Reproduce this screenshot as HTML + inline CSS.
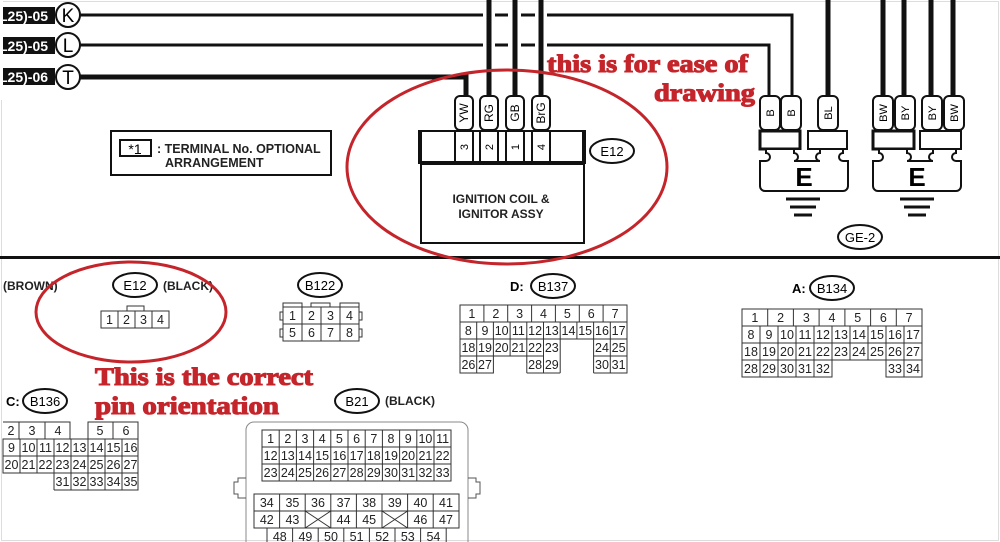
<!DOCTYPE html>
<html><head><meta charset="utf-8"><style>
html,body{margin:0;padding:0;background:#fff;}
svg{display:block;}
text{font-family:"Liberation Sans",sans-serif;}
.n{font-size:12.5px;text-anchor:middle;fill:#222;}
.red{font-family:"Liberation Serif",serif;font-weight:bold;fill:#c4252b;stroke:#c4252b;stroke-width:1.1px;}
</style></head><body>
<svg width="1000" height="542" viewBox="0 0 1000 542" xmlns="http://www.w3.org/2000/svg">
<rect x="1.5" y="1.5" width="997" height="539" fill="#fff" stroke="#ddd"/>
<!-- top wire labels -->
<rect x="3" y="7" width="52" height="17" fill="#111"/><text x="-1" y="21" fill="#fff" font-weight="bold" font-size="14">L25)-05</text>
<rect x="3" y="37" width="52" height="17" fill="#111"/><text x="-1" y="51" fill="#fff" font-weight="bold" font-size="14">L25)-05</text>
<rect x="3" y="68" width="52" height="17" fill="#111"/><text x="-1" y="82" fill="#fff" font-weight="bold" font-size="14">L25)-06</text>
<rect x="0" y="0" width="3" height="100" fill="#fff"/>
<g fill="#fff" stroke="#111" stroke-width="2">
<circle cx="68" cy="15" r="12"/><circle cx="68" cy="45" r="12"/><circle cx="68" cy="77" r="12"/>
</g>
<text x="68" y="22" font-size="19" text-anchor="middle">K</text>
<text x="68" y="52" font-size="19" text-anchor="middle">L</text>
<text x="68" y="84" font-size="19" text-anchor="middle">T</text>
<!-- horizontal wires -->
<g stroke="#111" fill="none">
<path d="M80 15H483M495 15H508M521 15H535M547 15H792V97" stroke-width="3"/>
<path d="M80 45H483M495 45H508M521 45H535M547 45H769V97" stroke-width="3"/>
<path d="M80 77H466V97" stroke-width="5"/>
<path d="M489 0V97M515 0V97M541 0V97" stroke-width="5"/>
<path d="M828 0V97M883 0V97M904 0V97M931 0V97M953 0V97" stroke-width="5"/>
</g>
<!-- E12 terminals -->
<g fill="#fff" stroke="#111" stroke-width="2">
<rect x="455" y="96" width="18" height="34" rx="5"/>
<rect x="480" y="96" width="18" height="34" rx="5"/>
<rect x="506" y="96" width="18" height="34" rx="5"/>
<rect x="532" y="96" width="18" height="34" rx="5"/>
</g>
<g font-size="12" text-anchor="middle">
<text transform="translate(468,113) rotate(-90)">YW</text>
<text transform="translate(493,113) rotate(-90)">RG</text>
<text transform="translate(519,113) rotate(-90)">GB</text>
<text transform="translate(545,113) rotate(-90)">BrG</text>
</g>
<g fill="none" stroke="#111">
<rect x="420" y="131" width="164" height="32" stroke-width="2"/>
<path d="M420 130V164M584 130V164" stroke-width="4"/>
<path d="M420 163H584" stroke-width="4"/>
<rect x="455" y="131" width="18" height="31" stroke-width="2"/>
<rect x="480" y="131" width="18" height="31" stroke-width="2"/>
<rect x="506" y="131" width="18" height="31" stroke-width="2"/>
<rect x="532" y="131" width="18" height="31" stroke-width="2"/>
<rect x="421" y="164" width="163" height="79" stroke-width="2"/>
</g>
<g font-size="11" text-anchor="middle">
<text transform="translate(468,147) rotate(-90)">3</text>
<text transform="translate(493,147) rotate(-90)">2</text>
<text transform="translate(519,147) rotate(-90)">1</text>
<text transform="translate(545,147) rotate(-90)">4</text>
</g>
<text x="501" y="203" font-size="12" font-weight="bold" text-anchor="middle" fill="#222">IGNITION COIL &amp;</text>
<text x="501" y="218" font-size="12" font-weight="bold" text-anchor="middle" fill="#222">IGNITOR ASSY</text>
<ellipse cx="612" cy="151" rx="22" ry="12" fill="none" stroke="#111" stroke-width="2"/>
<text x="612" y="156" font-size="13" text-anchor="middle">E12</text>
<!-- legend -->
<rect x="111" y="131" width="220" height="44" fill="none" stroke="#111" stroke-width="2"/>
<rect x="120" y="140" width="31" height="16" fill="none" stroke="#111" stroke-width="2"/>
<text x="135" y="154" font-size="14" text-anchor="middle">*1</text>
<text x="157" y="153" font-size="12.5" font-weight="bold" fill="#222">: TERMINAL No. OPTIONAL</text>
<text x="165" y="167" font-size="12.5" font-weight="bold" fill="#222">ARRANGEMENT</text>
<!-- E grounds -->
<g fill="#fff" stroke="#111" stroke-width="2">
<rect x="760" y="96" width="20" height="34" rx="5"/><rect x="781" y="96" width="20" height="34" rx="5"/>
<rect x="818" y="96" width="20" height="34" rx="5"/>
<rect x="873" y="96" width="20" height="34" rx="5"/><rect x="895" y="96" width="20" height="34" rx="5"/>
<rect x="922" y="96" width="20" height="34" rx="5"/><rect x="944" y="96" width="20" height="34" rx="5"/>
<rect x="760" y="131" width="40" height="18" stroke-width="3"/><rect x="808" y="131" width="39" height="18"/>
<rect x="873" y="131" width="41" height="18" stroke-width="3"/><rect x="920" y="131" width="41" height="18"/>
<path d="M766 150v3a4 4 0 0 1 0 8H760V186a5 5 0 0 0 5 5H843a5 5 0 0 0 5-5V161h-5a4 4 0 0 1 0-8v-3"/>
<path d="M879 150v3a4 4 0 0 1 0 8H873V186a5 5 0 0 0 5 5H956a5 5 0 0 0 5-5V161h-5a4 4 0 0 1 0-8v-3"/>
<path d="M794 150v3a4 4 0 0 1 0 8H820a4 4 0 0 1 0-8v-3" fill="none"/>
<path d="M907 150v3a4 4 0 0 1 0 8H933a4 4 0 0 1 0-8v-3" fill="none"/>
</g>
<g font-size="11" text-anchor="middle">
<text transform="translate(774,113) rotate(-90)">B</text><text transform="translate(795,113) rotate(-90)">B</text>
<text transform="translate(832,113) rotate(-90)">BL</text>
<text transform="translate(887,113) rotate(-90)">BW</text><text transform="translate(909,113) rotate(-90)">BY</text>
<text transform="translate(936,113) rotate(-90)">BY</text><text transform="translate(958,113) rotate(-90)">BW</text>
</g>
<text x="804" y="186" font-size="26" font-weight="bold" text-anchor="middle">E</text>
<text x="917" y="186" font-size="26" font-weight="bold" text-anchor="middle">E</text>
<g stroke="#111" stroke-width="3">
<path d="M786 199h34M790 207h26M794 215h18"/>
<path d="M900 199h34M904 207h26M908 215h18"/>
</g>
<ellipse cx="860" cy="237" rx="22" ry="12" fill="none" stroke="#111" stroke-width="2"/>
<text x="860" y="242" font-size="13" text-anchor="middle">GE-2</text>
<!-- separator -->
<rect x="0" y="256" width="1000" height="3" fill="#111"/>
<!-- bottom: E12 -->
<text x="3" y="290" font-size="12" font-weight="bold" fill="#222">(BROWN)</text>
<ellipse cx="135" cy="285" rx="22" ry="12" fill="none" stroke="#111" stroke-width="2"/>
<text x="135" y="290" font-size="13" text-anchor="middle">E12</text>
<text x="163" y="290" font-size="12" font-weight="bold" fill="#222">(BLACK)</text>
<g fill="none" stroke="#333">
<rect x="101" y="311" width="68" height="17"/><path d="M118 311v17M135 311v17M152 311v17M127 311v-5h17v5"/>
</g>
<text class="n" x="109.5" y="324">1</text><text class="n" x="126.5" y="324">2</text><text class="n" x="143.5" y="324">3</text><text class="n" x="160.5" y="324">4</text>
<!-- B122 -->
<ellipse cx="320" cy="285" rx="22" ry="12" fill="none" stroke="#111" stroke-width="2"/>
<text x="320" y="290" font-size="13" text-anchor="middle">B122</text>
<g fill="none" stroke="#333">
<rect x="283" y="307" width="76" height="34"/><path d="M302 307v34M321 307v34M340 307v34M283 324h76M283 307v-4h19v4M311 307v-4h19v4M340 307v-4h19v4M283 312h-3v8h3M283 329h-3v8h3M359 312h3v8h-3M359 329h3v8h-3"/>
</g>
<text class="n" x="292.5" y="320">1</text><text class="n" x="311.5" y="320">2</text><text class="n" x="330.5" y="320">3</text><text class="n" x="349.5" y="320">4</text>
<text class="n" x="292.5" y="337">5</text><text class="n" x="311.5" y="337">6</text><text class="n" x="330.5" y="337">7</text><text class="n" x="349.5" y="337">8</text>
<!-- D:B137 -->
<text x="510" y="291" font-size="13" font-weight="bold">D:</text>
<ellipse cx="553" cy="286" rx="22" ry="12" fill="none" stroke="#111" stroke-width="2"/>
<text x="553" y="291" font-size="13" text-anchor="middle">B137</text>
<g fill="none" stroke="#333">
<rect x="460" y="305" width="167" height="17"/>
<path d="M483.9 305v17M507.7 305v17M531.6 305v17M555.4 305v17M579.3 305v17M603.1 305v17"/>
<rect x="460" y="322" width="167" height="17"/>
<path d="M476.7 322v51M493.4 322v34M510.1 322v34M526.8 322v51M543.5 322v51M560.2 322v51M576.9 322v17M593.6 322v51M610.3 322v51"/>
<path d="M460 339h83.5M593.6 339h33.4M460 356h83.5M593.6 356h33.4M460 339v34h33.4V356M526.8 373h33.4M593.6 373h33.4V339"/>
</g>
<text class="n" x="471.9" y="318">1</text><text class="n" x="495.8" y="318">2</text><text class="n" x="519.6" y="318">3</text><text class="n" x="543.5" y="318">4</text><text class="n" x="567.4" y="318">5</text><text class="n" x="591.2" y="318">6</text><text class="n" x="615.1" y="318">7</text>
<text class="n" x="468.4" y="335">8</text><text class="n" x="485" y="335">9</text><text class="n" x="501.7" y="335">10</text><text class="n" x="518.4" y="335">11</text><text class="n" x="535.1" y="335">12</text><text class="n" x="551.8" y="335">13</text><text class="n" x="568.5" y="335">14</text><text class="n" x="585.2" y="335">15</text><text class="n" x="602" y="335">16</text><text class="n" x="618.6" y="335">17</text>
<text class="n" x="468.4" y="352">18</text><text class="n" x="485" y="352">19</text><text class="n" x="501.7" y="352">20</text><text class="n" x="518.4" y="352">21</text><text class="n" x="535.1" y="352">22</text><text class="n" x="551.8" y="352">23</text><text class="n" x="602" y="352">24</text><text class="n" x="618.6" y="352">25</text>
<text class="n" x="468.4" y="369">26</text><text class="n" x="485" y="369">27</text><text class="n" x="535.1" y="369">28</text><text class="n" x="551.8" y="369">29</text><text class="n" x="602" y="369">30</text><text class="n" x="618.6" y="369">31</text>
<!-- A:B134 -->
<text x="792" y="293" font-size="13" font-weight="bold">A:</text>
<ellipse cx="832" cy="288" rx="22" ry="12" fill="none" stroke="#111" stroke-width="2"/>
<text x="832" y="293" font-size="13" text-anchor="middle">B134</text>
<g fill="none" stroke="#333">
<rect x="742" y="309" width="180" height="17"/>
<path d="M767.7 309v17M793.4 309v17M819.1 309v17M844.9 309v17M870.6 309v17M896.3 309v17"/>
<rect x="742" y="326" width="180" height="34"/>
<path d="M760 326v51M778 326v51M796 326v51M814 326v51M832 326v34M850 326v34M868 326v34M886 326v34M904 326v51"/>
<path d="M742 343h180M742 360v17h90V360M886 360v17h36V360"/>
</g>
<text class="n" x="754.9" y="322">1</text><text class="n" x="780.6" y="322">2</text><text class="n" x="806.3" y="322">3</text><text class="n" x="832" y="322">4</text><text class="n" x="857.7" y="322">5</text><text class="n" x="883.4" y="322">6</text><text class="n" x="909.1" y="322">7</text>
<text class="n" x="751" y="339">8</text><text class="n" x="769" y="339">9</text><text class="n" x="787" y="339">10</text><text class="n" x="805" y="339">11</text><text class="n" x="823" y="339">12</text><text class="n" x="841" y="339">13</text><text class="n" x="859" y="339">14</text><text class="n" x="877" y="339">15</text><text class="n" x="895" y="339">16</text><text class="n" x="913" y="339">17</text>
<text class="n" x="751" y="356">18</text><text class="n" x="769" y="356">19</text><text class="n" x="787" y="356">20</text><text class="n" x="805" y="356">21</text><text class="n" x="823" y="356">22</text><text class="n" x="841" y="356">23</text><text class="n" x="859" y="356">24</text><text class="n" x="877" y="356">25</text><text class="n" x="895" y="356">26</text><text class="n" x="913" y="356">27</text>
<text class="n" x="751" y="373">28</text><text class="n" x="769" y="373">29</text><text class="n" x="787" y="373">30</text><text class="n" x="805" y="373">31</text><text class="n" x="823" y="373">32</text><text class="n" x="895" y="373">33</text><text class="n" x="913" y="373">34</text>
<!-- C:B136 -->
<text x="6" y="406" font-size="13" font-weight="bold">C:</text>
<ellipse cx="45" cy="401" rx="22" ry="12" fill="none" stroke="#111" stroke-width="2"/>
<text x="45" y="406" font-size="13" text-anchor="middle">B136</text>
<g fill="none" stroke="#333">
<path d="M3 422H70V439M19 422v17M45 422v17M88 439V422h50v17M113 422v17"/>
<rect x="3" y="439" width="135" height="34"/>
<path d="M3 456h135M20 439v34M37 439v34M54 439v51M71 439v51M88 439v51M105 439v51M122 439v51M54 490h84V473"/>
</g>
<text class="n" x="11" y="435">2</text><text class="n" x="32" y="435">3</text><text class="n" x="58" y="435">4</text><text class="n" x="100" y="435">5</text><text class="n" x="126" y="435">6</text>
<text class="n" x="11.5" y="452">9</text><text class="n" x="28.5" y="452">10</text><text class="n" x="45.5" y="452">11</text><text class="n" x="62.5" y="452">12</text><text class="n" x="79.5" y="452">13</text><text class="n" x="96.5" y="452">14</text><text class="n" x="113.5" y="452">15</text><text class="n" x="130.5" y="452">16</text>
<text class="n" x="11.5" y="469">20</text><text class="n" x="28.5" y="469">21</text><text class="n" x="45.5" y="469">22</text><text class="n" x="62.5" y="469">23</text><text class="n" x="79.5" y="469">24</text><text class="n" x="96.5" y="469">25</text><text class="n" x="113.5" y="469">26</text><text class="n" x="130.5" y="469">27</text>
<text class="n" x="62.5" y="486">31</text><text class="n" x="79.5" y="486">32</text><text class="n" x="96.5" y="486">33</text><text class="n" x="113.5" y="486">34</text><text class="n" x="130.5" y="486">35</text>
<!-- B21 -->
<ellipse cx="357" cy="401" rx="22" ry="12" fill="none" stroke="#111" stroke-width="2"/>
<text x="357" y="406" font-size="13" text-anchor="middle">B21</text>
<text x="385" y="405" font-size="12" font-weight="bold" fill="#222">(BLACK)</text>
<g fill="none" stroke="#555">
<path d="M246 542V430a8 8 0 0 1 8-8H460a8 8 0 0 1 8 8V542" stroke="#888"/>
<path d="M246 478h-8v4h-4v12h4v4h8M468 478h8v4h4v12h-4v4h-8"/>
<rect x="262" y="430" width="189" height="51" stroke="#333"/>
<path d="M262 447h189M262 464h189M279.2 430v51M296.4 430v51M313.6 430v51M330.8 430v51M348 430v51M365.2 430v51M382.4 430v51M399.6 430v51M416.8 430v51M434 430v51" stroke="#333"/>
<rect x="254" y="494" width="205" height="34" stroke="#333"/>
<path d="M254 511h205M279.6 494v34M305.2 494v34M330.8 494v34M356.4 494v34M382 494v34M407.6 494v34M433.2 494v34M305.2 511l25.6 17M330.8 511l-25.6 17M382 511l25.6 17M407.6 511l-25.6 17" stroke="#333"/>
<path d="M267 542v-14M292.6 542v-14M318.2 542v-14M343.8 542v-14M369.4 542v-14M395 542v-14M420.6 542v-14M446.2 542v-14" stroke="#333"/>
</g>
<text class="n" x="270.6" y="443">1</text><text class="n" x="287.8" y="443">2</text><text class="n" x="305" y="443">3</text><text class="n" x="322.2" y="443">4</text><text class="n" x="339.4" y="443">5</text><text class="n" x="356.6" y="443">6</text><text class="n" x="373.8" y="443">7</text><text class="n" x="391" y="443">8</text><text class="n" x="408.2" y="443">9</text><text class="n" x="425.4" y="443">10</text><text class="n" x="442.6" y="443">11</text>
<text class="n" x="270.6" y="460">12</text><text class="n" x="287.8" y="460">13</text><text class="n" x="305" y="460">14</text><text class="n" x="322.2" y="460">15</text><text class="n" x="339.4" y="460">16</text><text class="n" x="356.6" y="460">17</text><text class="n" x="373.8" y="460">18</text><text class="n" x="391" y="460">19</text><text class="n" x="408.2" y="460">20</text><text class="n" x="425.4" y="460">21</text><text class="n" x="442.6" y="460">22</text>
<text class="n" x="270.6" y="477">23</text><text class="n" x="287.8" y="477">24</text><text class="n" x="305" y="477">25</text><text class="n" x="322.2" y="477">26</text><text class="n" x="339.4" y="477">27</text><text class="n" x="356.6" y="477">28</text><text class="n" x="373.8" y="477">29</text><text class="n" x="391" y="477">30</text><text class="n" x="408.2" y="477">31</text><text class="n" x="425.4" y="477">32</text><text class="n" x="442.6" y="477">33</text>
<text class="n" x="266.8" y="507">34</text><text class="n" x="292.4" y="507">35</text><text class="n" x="318" y="507">36</text><text class="n" x="343.6" y="507">37</text><text class="n" x="369.2" y="507">38</text><text class="n" x="394.8" y="507">39</text><text class="n" x="420.4" y="507">40</text><text class="n" x="446" y="507">41</text>
<text class="n" x="266.8" y="524">42</text><text class="n" x="292.4" y="524">43</text><text class="n" x="343.6" y="524">44</text><text class="n" x="369.2" y="524">45</text><text class="n" x="420.4" y="524">46</text><text class="n" x="446" y="524">47</text>
<text class="n" x="279.8" y="541">48</text><text class="n" x="305.4" y="541">49</text><text class="n" x="331" y="541">50</text><text class="n" x="356.6" y="541">51</text><text class="n" x="382.2" y="541">52</text><text class="n" x="407.8" y="541">53</text><text class="n" x="433.4" y="541">54</text>
<!-- red annotations -->
<ellipse cx="507" cy="167" rx="160" ry="97" fill="none" stroke="#c4252b" stroke-width="3"/>
<ellipse cx="131" cy="312" rx="95" ry="50" fill="none" stroke="#c4252b" stroke-width="3"/>
<text class="red" x="547" y="72" font-size="25" textLength="201" lengthAdjust="spacingAndGlyphs">this is for ease of</text>
<text class="red" x="654" y="101" font-size="25" textLength="101" lengthAdjust="spacingAndGlyphs">drawing</text>
<text class="red" x="95" y="385" font-size="25" textLength="218" lengthAdjust="spacingAndGlyphs">This is the correct</text>
<text class="red" x="95" y="414" font-size="25" textLength="184" lengthAdjust="spacingAndGlyphs">pin orientation</text>
</svg>
</body></html>
